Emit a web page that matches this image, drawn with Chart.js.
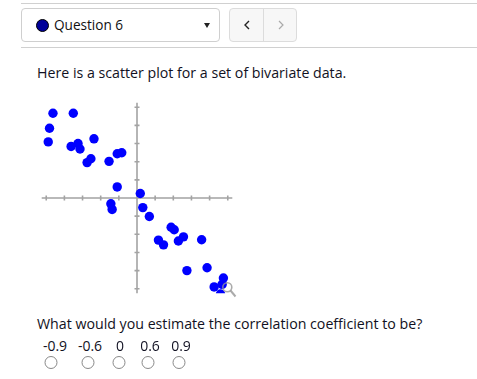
<!DOCTYPE html>
<html>
<head>
<meta charset="utf-8">
<script src="https://cdn.jsdelivr.net/npm/chart.js@4"></script>
<style>
  body { margin: 0; background: #fff; width: 477px; height: 379px; overflow: hidden; position: relative; font-family: "Open Sans", sans-serif; color: #111122; }
  .rule { position: absolute; left: 21px; right: 0; height: 1px; background: #d0d0d0; }
  .select { position: absolute; left: 21px; top: 8px; width: 197px; height: 32px; border: 1px solid #cfcfcf; border-radius: 4px; }
  .dot { position: absolute; left: 14px; top: 10px; width: 11px; height: 11px; border-radius: 50%; background: #000099; border: 1px solid #000; }
  .qlabel { position: absolute; left: 32px; top: 9px; font-size: 13.6px; line-height: 1; color: #111; }
  .caret { position: absolute; left: 182px; top: 14px; width: 0; height: 0; border-left: 3.5px solid transparent; border-right: 3.5px solid transparent; border-top: 5px solid #222; }
  .btns { position: absolute; left: 229px; top: 8px; width: 66px; height: 32px; border: 1px solid #dcdcdc; border-radius: 4px; background: #f7f7f7; }
  .btns .div { position: absolute; left: 33px; top: 0; width: 1px; height: 32px; background: #dcdcdc; }
  .btns svg { position: absolute; top: 11px; }
  .txt { position: absolute; font-size: 14.2px; line-height: 1; white-space: nowrap; }
  #wrap { position: absolute; left: 37px; top: 98px; width: 200px; height: 200px; }
  .opt { position: absolute; top: 339px; font-size: 14px; line-height: 1; transform: translateX(-50%); }
  .radio { position: absolute; top: 356px; width: 11px; height: 11px; border: 1px solid #888; border-radius: 50%; background: #fff; transform: translateX(-50%); }
</style>
</head>
<body>
<div class="rule" style="top:3px"></div>
<div class="select">
  <div class="dot"></div>
  <div class="qlabel">Question 6</div>
  <div class="caret"></div>
</div>
<div class="btns">
  <svg style="left:14px" width="6" height="10"><polyline points="5,1 1,5 5,9" fill="none" stroke="#222" stroke-width="1.4"/></svg>
  <div class="div"></div>
  <svg style="left:48px" width="6" height="10"><polyline points="1,1 5,5 1,9" fill="none" stroke="#aaa" stroke-width="1.2"/></svg>
</div>
<div class="rule" style="top:47px"></div>

<div class="txt" style="left:37px; top:66px">Here is a scatter plot for a set of bivariate data.</div>

<div id="wrap"><canvas id="scatter" width="200" height="200"></canvas></div>
<svg style="position:absolute; left:220px; top:280px" width="20" height="20">
  <circle cx="7.3" cy="7.3" r="4.5" fill="none" stroke="rgba(150,150,150,0.8)" stroke-width="1.6"/>
  <line x1="10.5" y1="10.5" x2="15.5" y2="16.5" stroke="rgba(150,150,150,0.8)" stroke-width="2"/>
</svg>

<div class="txt" style="left:37px; top:317px">What would you estimate the correlation coefficient to be?</div>
<div id="opts"></div>

<script>
// scatter data (axis units, one tick = 1)
const xValues = [-4.63, -3.51, -4.82, -4.89, -3.63, -3.25, -3.14, -2.37, -2.54, -2.75,
                 -1.54, -1.09, -0.84, -1.09, -1.44, -1.37, 0.18, 0.32, 0.68, 1.88,
                 2.05, 1.18, 1.46, 2.28, 2.56, 3.56, 2.75, 3.86, 4.76, 4.69, 4.25, 4.6];
const yValues = [4.67, 4.67, 3.84, 3.09, 2.84, 3.0, 2.7, 3.26, 2.16, 1.95,
                 2.02, 2.44, 2.49, 0.61, -0.32, -0.63, 0.25, -0.53, -1.02, -1.61,
                 -1.75, -2.32, -2.58, -2.37, -2.14, -2.3, -4.0, -3.84, -4.41, -4.76, -4.9, -5.29];
const tickValues = [-5, -4, -3, -2, -1, 0, 1, 2, 3, 4, 5];
const answerLabels = ['-0.9', '-0.6', '0', '0.6', '0.9'];

// answer choices
const optX = [55, 90, 120, 150, 181];
const radioX = [51, 88, 119, 148, 179];
const opts = document.getElementById('opts');
answerLabels.forEach((lab, i) => {
  const s = document.createElement('div');
  s.className = 'opt';
  s.style.left = optX[i] + 'px';
  s.textContent = lab;
  opts.appendChild(s);
  const r = document.createElement('div');
  r.className = 'radio';
  r.style.left = radioX[i] + 'px';
  opts.appendChild(r);
});

// axes through the origin with cross ticks
const crossAxes = {
  id: 'crossAxes',
  beforeDatasetsDraw(chart) {
    const ctx = chart.ctx;
    const xs = chart.scales.x, ys = chart.scales.y;
    const x0 = xs.getPixelForValue(0), y0 = ys.getPixelForValue(0);
    ctx.save();
    ctx.strokeStyle = '#a3a3a3';
    ctx.lineWidth = 1.6;
    ctx.beginPath();
    ctx.moveTo(xs.left, y0); ctx.lineTo(xs.right, y0);
    ctx.moveTo(x0, ys.top); ctx.lineTo(x0, ys.bottom);
    tickValues.forEach(v => {
      if (v === 0) return;
      const px = xs.getPixelForValue(v);
      ctx.moveTo(px, y0 - 2.5); ctx.lineTo(px, y0 + 2.5);
      const py = ys.getPixelForValue(v);
      ctx.moveTo(x0 - 2.5, py); ctx.lineTo(x0 + 2.5, py);
    });
    ctx.stroke();
    ctx.restore();
  }
};

const ctx = document.getElementById('scatter').getContext('2d');
new Chart(ctx, {
  type: 'scatter',
  data: {
    datasets: [{
      data: xValues.map((x, i) => ({ x: x, y: yValues[i] })),
      backgroundColor: '#0000ff',
      borderWidth: 0,
      pointRadius: 4.7,
      pointHoverRadius: 4.7
    }]
  },
  options: {
    responsive: false,
    animation: false,
    layout: { padding: 0 },
    plugins: { legend: { display: false }, tooltip: { enabled: false } },
    scales: {
      x: { type: 'linear', min: -5.25, max: 5.25, display: false },
      y: { type: 'linear', min: -5.25, max: 5.25, display: false }
    }
  },
  plugins: [crossAxes]
});
</script>
</body>
</html>
